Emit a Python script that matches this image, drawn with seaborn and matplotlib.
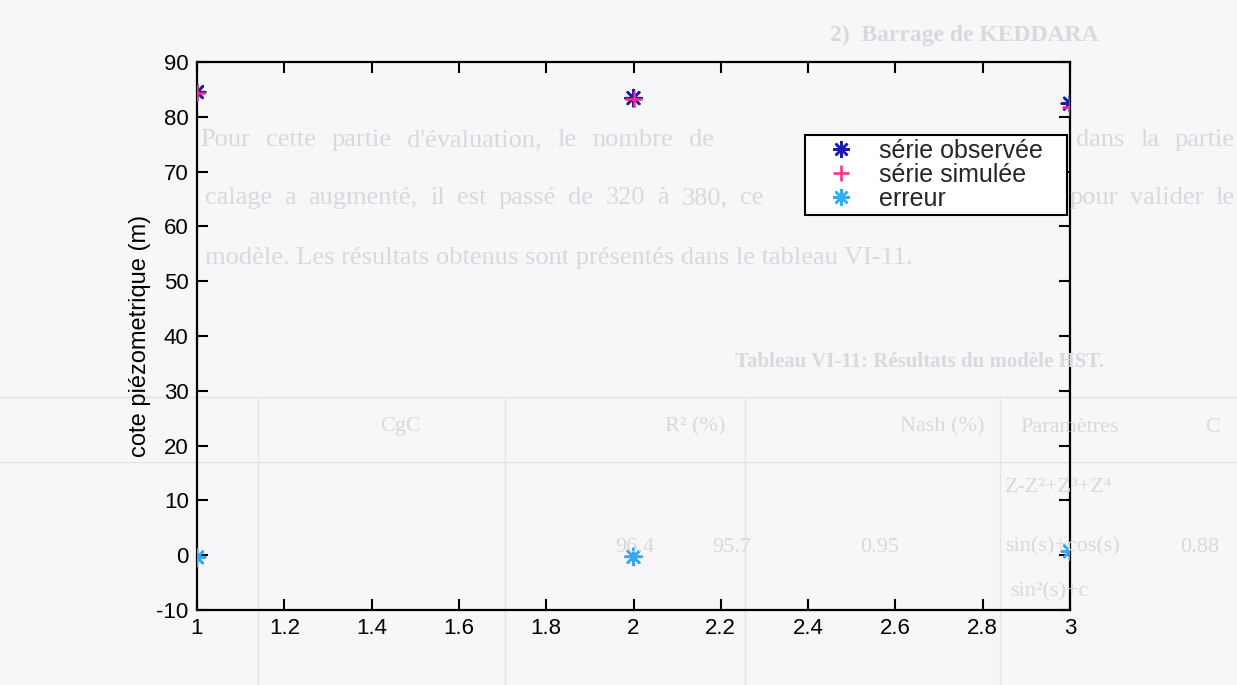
import matplotlib
matplotlib.use("Agg")
import matplotlib.pyplot as plt
import seaborn as sns
import pandas as pd
from matplotlib.lines import Line2D

# Measurement index (validation points) and piezometric levels
points = [1, 2, 3]
observed = [84.5, 83.4, 82.4]
simulated = [84.3, 83.2, 81.7]
error = [-0.4, -0.3, 0.7]

series_names = ["série observée", "série simulée", "erreur"]
series_colors = ["#1c1ca8", "#ff2a86", "#35aaf2"]

x_ticks = [1, 1.2, 1.4, 1.6, 1.8, 2, 2.2, 2.4, 2.6, 2.8, 3]
x_tick_labels = ["1", "1.2", "1.4", "1.6", "1.8", "2", "2.2", "2.4", "2.6", "2.8", "3"]
y_ticks = [-10, 0, 10, 20, 30, 40, 50, 60, 70, 80, 90]

# Faint page text showing through the printed sheet: (text, left px, right px or None, y px, size, bold)
page_lines = [
    ("2)  Barrage de KEDDARA", 830, None, 35, 17, True),
    ("Pour cette partie d'évaluation, le nombre de valeurs pris en considération dans la partie", 200, 1235, 140, 19, False),
    ("calage a augmenté, il est passé de 320 à 380, ce qui nous laisse 5 valeurs pour valider le", 205, 1235, 198, 19, False),
    ("modèle. Les résultats obtenus sont présentés dans le tableau VI-11.", 205, None, 258, 19, False),
    ("Tableau VI-11: Résultats du modèle HST.", 735, None, 362, 15, True),
    ("Paramètres", 1020, None, 427, 16, False),
    ("Nash (%)", 900, None, 427, 16, False),
    ("R² (%)", 665, None, 427, 16, False),
    ("CgC", 380, None, 427, 16, False),
    ("C", 1205, None, 427, 16, False),
    ("Z-Z²+Z³+Z⁴", 1005, None, 488, 16, False),
    ("sin(s)+cos(s)", 1005, None, 547, 16, False),
    ("95.7", 712, None, 547, 16, False),
    ("96.4", 615, None, 547, 16, False),
    ("0.95", 860, None, 547, 16, False),
    ("0.88", 1180, None, 547, 16, False),
    ("sin²(s)+c", 1010, None, 592, 16, False),
    ("sin(s)*cos(s)", 1010, None, 630, 16, False),
]
table_rows_px = [397, 462]
table_cols_px = [258, 505, 745, 1000]

W, H = 1237, 685
sns.set_theme(style="white")
plt.rcParams["font.family"] = ["Liberation Sans", "DejaVu Sans"]
plt.rcParams["axes.unicode_minus"] = False

fig = plt.figure(figsize=(W / 100, H / 100), dpi=100)
fig.patch.set_facecolor("#f7f7fa")
page_color = "#d8d8dd"
serif = ["Liberation Serif", "DejaVu Serif"]

for py in table_rows_px:
    fig.add_artist(Line2D([0, 1], [1 - py / H] * 2, color="#e3e3e7", lw=1, zorder=0))
for px in table_cols_px:
    fig.add_artist(Line2D([px / W] * 2, [0, 1 - table_rows_px[0] / H], color="#e5e5e9", lw=1, zorder=0))

ax = fig.add_axes([197 / W, 1 - 610 / H, (1070 - 197) / W, (610 - 62) / H])
ax.set_facecolor("none")

df = pd.DataFrame({
    "x": points * 3,
    "y": observed + simulated + error,
    "serie": [series_names[0]] * 3 + [series_names[1]] * 3 + [series_names[2]] * 3,
})

asterisk = (8, 2, 0)
markers = {series_names[0]: asterisk, series_names[1]: "+", series_names[2]: asterisk}
palette = dict(zip(series_names, series_colors))

sns.scatterplot(data=df, x="x", y="y", hue="serie", style="serie",
                markers=markers, palette=palette, s=140, linewidth=1.8,
                legend=False, ax=ax, zorder=3)

ax.set_xlim(1, 3)
ax.set_ylim(-10, 90)
ax.set_xticks(x_ticks)
ax.set_xticklabels(x_tick_labels)
ax.set_yticks(y_ticks)
ax.set_xlabel("")
ax.set_ylabel("cote piézometrique (m)", fontsize=17, color="black", labelpad=4)

ax.tick_params(axis="both", which="both", direction="in", length=8, width=1.5,
               top=True, right=True, bottom=True, left=True,
               labelsize=16, colors="black", pad=6)
for side in ax.spines.values():
    side.set_visible(True)
    side.set_color("black")
    side.set_linewidth(1.6)

handles = [
    Line2D([], [], ls="none", marker=asterisk, ms=12, mew=1.8, color=series_colors[0]),
    Line2D([], [], ls="none", marker="+", ms=12, mew=1.8, color=series_colors[1]),
    Line2D([], [], ls="none", marker=asterisk, ms=12, mew=1.8, color=series_colors[2]),
]
# trailing spaces give the box its right-hand margin
leg = ax.legend(handles, [name + "   " for name in series_names],
                loc="upper right", bbox_to_anchor=(0.997, 0.866),
                fontsize=18, frameon=True, fancybox=False, framealpha=1,
                edgecolor="black", facecolor="white", borderpad=0.15,
                handletextpad=0.2, labelspacing=0.0, handlelength=2.6, borderaxespad=0)
leg.get_frame().set_linewidth(1.5)

# Lay out the page words (justified where a right margin is given)
fig.canvas.draw()
renderer = fig.canvas.get_renderer()
words_drawn = []
for txt, left, right, py, size, bold in page_lines:
    weight = "bold" if bold else "normal"
    words = txt.split(" ") if right is not None else [txt]
    items = [fig.text(0, 1 - py / H, w, fontsize=size, color=page_color, family=serif,
                      weight=weight, va="center", ha="left", zorder=0) for w in words]
    widths = [t.get_window_extent(renderer).width for t in items]
    if right is not None and len(items) > 1:
        gap = (right - left - sum(widths)) / (len(items) - 1)
    else:
        gap = 0
    x = left
    for t, w in zip(items, widths):
        t.set_x(x / W)
        x += w + gap
    words_drawn.extend(items)

# Words hidden behind the legend box or chart labels are left out
fig.canvas.draw()
blockers = [leg.get_window_extent(renderer), ax.yaxis.label.get_window_extent(renderer)]
blockers += [lab.get_window_extent(renderer) for lab in ax.get_xticklabels() + ax.get_yticklabels()]
for t in words_drawn:
    bb = t.get_window_extent(renderer)
    if any(bb.overlaps(b) for b in blockers):
        t.remove()

fig.savefig("out.png", dpi=100, facecolor=fig.get_facecolor())
